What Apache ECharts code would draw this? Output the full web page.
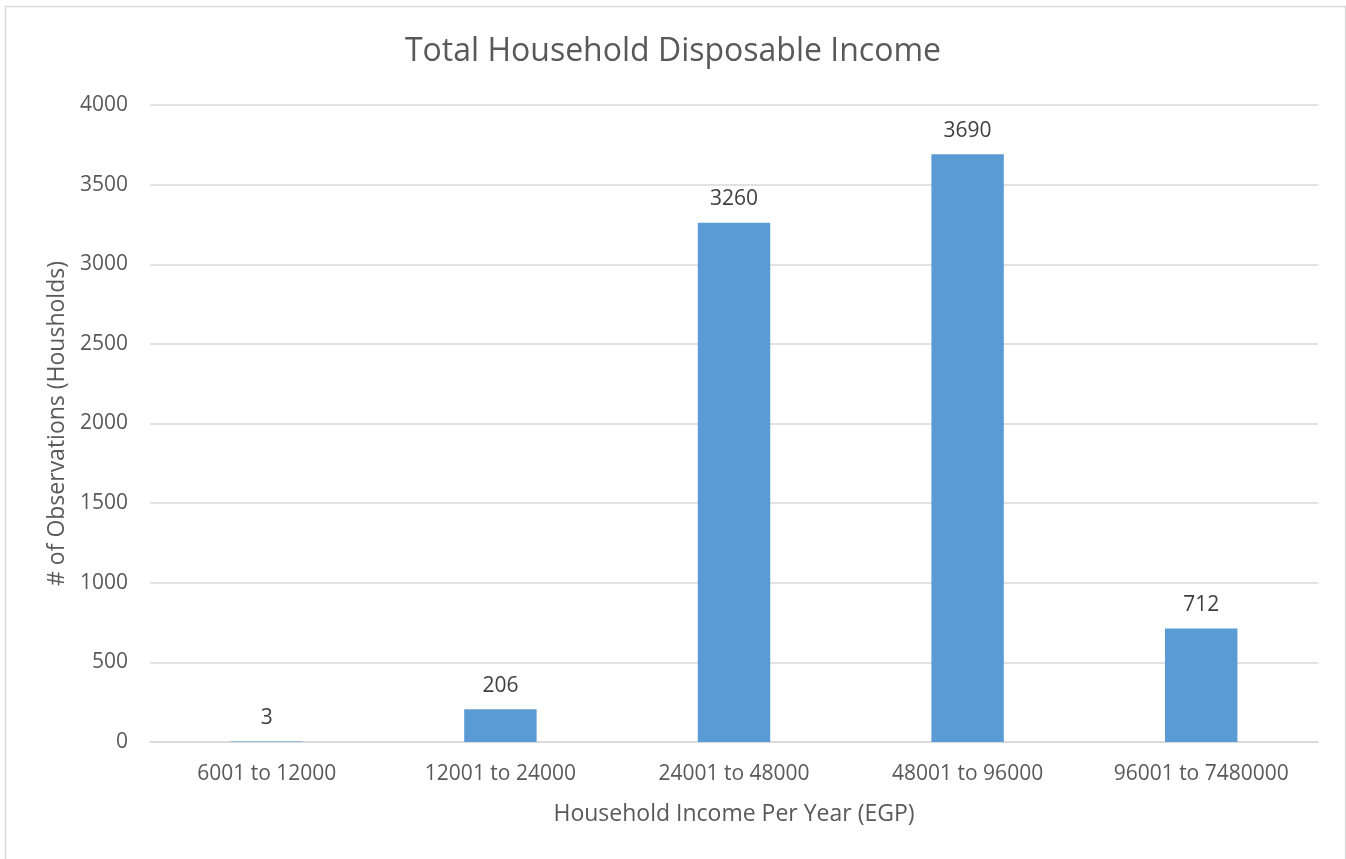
<!DOCTYPE html>
<html><head><meta charset="utf-8">
<script src="https://cdn.jsdelivr.net/npm/echarts@6/dist/echarts.min.js"></script>
<style>html,body{margin:0;padding:0;background:#fff}#c{width:1346px;height:859px}</style>
</head><body><div id="c"></div>
<script>
const categories = ['6001 to 12000','12001 to 24000','24001 to 48000','48001 to 96000','96001 to 7480000'];
const values = [3, 206, 3260, 3690, 712];
const chart = echarts.init(document.getElementById('c'));
const FONT = 'Open Sans';
chart.setOption({
  animation: false,
  textStyle: {fontFamily: FONT},
  graphic: [{type:'rect', shape:{x:5.5,y:6.5,width:1340,height:860}, style:{fill:'none', stroke:'#d9d9d9', lineWidth:1.5}}],
  title: {text: 'Total Household Disposable Income', left: 'center', top: 31,
    textStyle: {fontFamily: FONT, fontSize: 32, fontWeight: 'normal', color: '#595959'}},
  grid: {left: 150, right: 28, top: 105, bottom: 117},
  xAxis: {type: 'category', data: categories,
    name: 'Household Income Per Year (EGP)', nameLocation: 'middle', nameGap: 61,
    nameTextStyle: {fontFamily: FONT, fontSize: 23, color: '#595959'},
    axisLine: {lineStyle: {color: '#d9d9d9', width: 1.5}}, axisTick: {show: false},
    axisLabel: {fontFamily: FONT, fontSize: 21, color: '#595959', margin: 22}},
  yAxis: {type: 'value', min: 0, max: 4000, interval: 500,
    name: '# of Observations (Housholds)', nameLocation: 'middle', nameGap: 76,
    nameTextStyle: {fontFamily: FONT, fontSize: 23, color: '#595959'},
    axisLine: {show: false}, axisTick: {show: false},
    splitLine: {lineStyle: {color: '#d9d9d9', width: 1.5}},
    axisLabel: {fontFamily: FONT, fontSize: 21, color: '#595959', margin: 22, formatter: v => String(v)}},
  series: [{type: 'bar', data: values, barWidth: '31%',
    itemStyle: {color: '#5b9bd5'},
    label: {show: true, position: 'top', distance: 13, fontFamily: FONT, fontSize: 21, color: '#404040'}}]
});
</script></body></html>
